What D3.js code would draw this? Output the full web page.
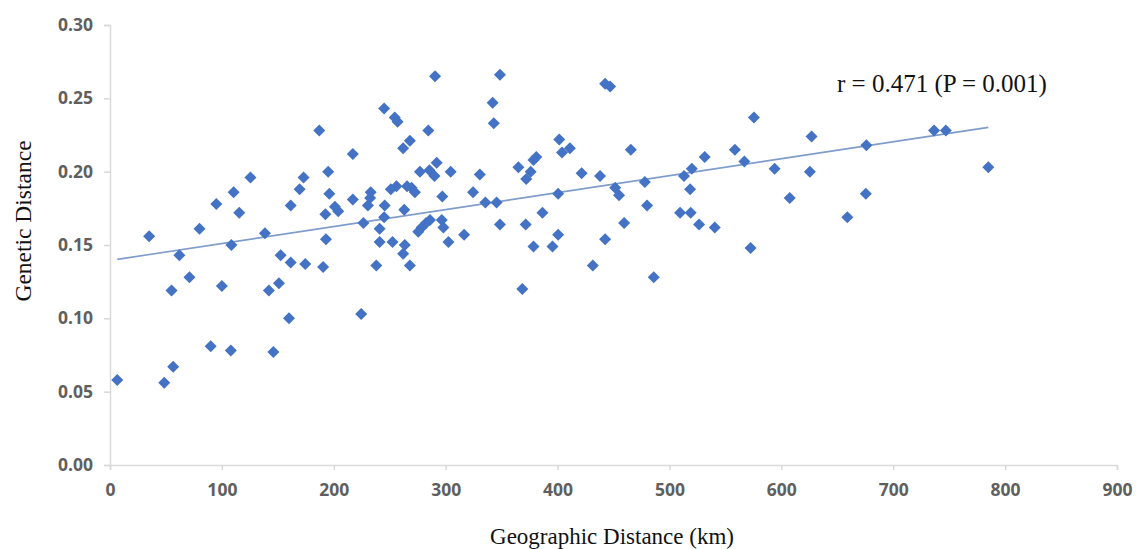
<!DOCTYPE html>
<html>
<head>
<meta charset="utf-8">
<script src="https://cdn.jsdelivr.net/npm/d3@7"></script>
<style>
  html, body { margin: 0; padding: 0; background: #ffffff; }
  svg { display: block; }
</style>
</head>
<body>
<svg id="chart" width="1136" height="549"></svg>
<script>
// Geographic distance (km) for each population pair
const geoDist = [
  6.5, 35, 48.5, 55, 56.5, 62, 71, 80, 90, 95,
  100, 108, 108.5, 110.5, 115.5, 125.5, 138.5, 142, 146, 151,
  152.5, 160, 161.5, 161.5, 169.5, 173, 174.5, 187, 190.5, 192.5,
  193, 195, 196, 201, 204, 217, 217, 224.5, 226.5, 230.5,
  232.5, 233, 238, 241, 241, 245, 245.5, 245, 252.5, 251,
  256, 254.5, 257, 263, 263.5, 262, 268, 262, 268, 265.5,
  269.5, 272.5, 275.5, 278.5, 282.5, 286, 277, 285.5, 290, 284.5,
  292, 290.5, 297, 296.5, 298, 302.5, 304.5, 316.5, 324.5, 330.5,
  335.5, 345.5, 342, 343, 348.5, 348.5, 365, 368.5, 372, 376,
  378.5, 381, 371.5, 378.5, 386.5, 395.5, 400.5, 400.5, 401.5, 404,
  411, 421.5, 431.5, 438, 442.5, 442.5, 447, 451.5, 455, 459.5,
  465.5, 478, 480, 486, 509.5, 513, 520, 518.5, 519, 526.5,
  531.5, 540.5, 558.5, 567, 572.5, 575.5, 594, 607.5, 627, 625.5,
  659, 675.5, 676, 736.5, 747, 785
];
// Genetic distance for each pair
const genDist = [
  0.058, 0.156, 0.056, 0.119, 0.067, 0.143, 0.128, 0.161, 0.081, 0.178,
  0.122, 0.078, 0.150, 0.186, 0.172, 0.196, 0.158, 0.119, 0.077, 0.124,
  0.143, 0.100, 0.177, 0.138, 0.188, 0.196, 0.137, 0.228, 0.135, 0.171,
  0.154, 0.200, 0.185, 0.176, 0.173, 0.212, 0.181, 0.103, 0.165, 0.177,
  0.182, 0.186, 0.136, 0.161, 0.152, 0.243, 0.177, 0.169, 0.152, 0.188,
  0.190, 0.237, 0.234, 0.174, 0.150, 0.144, 0.136, 0.216, 0.221, 0.190,
  0.189, 0.186, 0.159, 0.162, 0.165, 0.167, 0.200, 0.201, 0.197, 0.228,
  0.206, 0.265, 0.183, 0.167, 0.162, 0.152, 0.200, 0.157, 0.186, 0.198,
  0.179, 0.179, 0.247, 0.233, 0.266, 0.164, 0.203, 0.120, 0.195, 0.200,
  0.208, 0.210, 0.164, 0.149, 0.172, 0.149, 0.157, 0.185, 0.222, 0.213,
  0.216, 0.199, 0.136, 0.197, 0.154, 0.260, 0.258, 0.189, 0.184, 0.165,
  0.215, 0.193, 0.177, 0.128, 0.172, 0.197, 0.202, 0.188, 0.172, 0.164,
  0.210, 0.162, 0.215, 0.207, 0.148, 0.237, 0.202, 0.182, 0.224, 0.200,
  0.169, 0.185, 0.218, 0.228, 0.228, 0.203
];
// Linear trend line endpoints (x in km, y genetic distance)
const trendX = [6.5, 785];
const trendY = [0.1402, 0.2302];
// Tick values
const xTicks = [0, 100, 200, 300, 400, 500, 600, 700, 800, 900];
const yTicks = [0, 0.05, 0.10, 0.15, 0.20, 0.25, 0.30];
const annotation = "r = 0.471 (P = 0.001)";
const xTitle = "Geographic Distance (km)";
const yTitle = "Genetic Distance";

const svg = d3.select("#chart");
const x = d3.scaleLinear().domain([0, 900]).range([110, 1117]);
const y = d3.scaleLinear().domain([0, 0.30]).range([465, 25]);

const axisColor = "#d9d9d9";
const labelColor = "#5f5f5f";

// X axis
const gx = svg.append("g")
  .attr("transform", `translate(0,${y(0)})`)
  .call(d3.axisBottom(x).tickValues(xTicks).tickSize(5).tickPadding(14).tickFormat(d3.format("d")));
// Y axis
const gy = svg.append("g")
  .attr("transform", `translate(${x(0)},0)`)
  .call(d3.axisLeft(y).tickValues(yTicks).tickSize(6).tickPadding(11).tickFormat(d3.format(".2f")));

[gx, gy].forEach(g => {
  g.select(".domain").attr("stroke", axisColor).attr("stroke-width", 1.5);
  g.selectAll(".tick line").attr("stroke", axisColor).attr("stroke-width", 1.5);
  g.selectAll(".tick text")
    .attr("fill", labelColor)
    .style("font-family", "'Open Sans', sans-serif")
    .style("font-weight", "700")
    .style("font-size", "17.5px");
});

// Trend line
const pts = trendX.map((d, i) => [d, trendY[i]]);
svg.append("path")
  .datum(pts)
  .attr("d", d3.line().x(d => x(d[0])).y(d => y(d[1])))
  .attr("fill", "none")
  .attr("stroke", "#7f9ccb")
  .attr("stroke-width", 1.6);

// Points (diamonds)
const data = geoDist.map((d, i) => ({ gx: d, gy: genDist[i] }));
svg.append("g")
  .selectAll("path")
  .data(data)
  .join("path")
  .attr("transform", d => `translate(${x(d.gx)},${y(d.gy)})`)
  .attr("d", d3.symbol().type(d3.symbolDiamond2).size(92))
  .attr("fill", "#4472c4");

// Annotation
svg.append("text")
  .attr("x", 837)
  .attr("y", 92)
  .style("font-family", "'Liberation Serif', 'Times New Roman', serif")
  .style("font-size", "25px")
  .attr("fill", "#111")
  .text(annotation);

// Axis titles
svg.append("text")
  .attr("x", 612)
  .attr("y", 544)
  .attr("text-anchor", "middle")
  .style("font-family", "'Liberation Serif', 'Times New Roman', serif")
  .style("font-size", "23px")
  .attr("fill", "#111")
  .text(xTitle);

svg.append("text")
  .attr("transform", "translate(31,221) rotate(-90)")
  .attr("text-anchor", "middle")
  .style("font-family", "'Liberation Serif', 'Times New Roman', serif")
  .style("font-size", "23.5px")
  .attr("fill", "#111")
  .text(yTitle);
</script>
</body>
</html>
